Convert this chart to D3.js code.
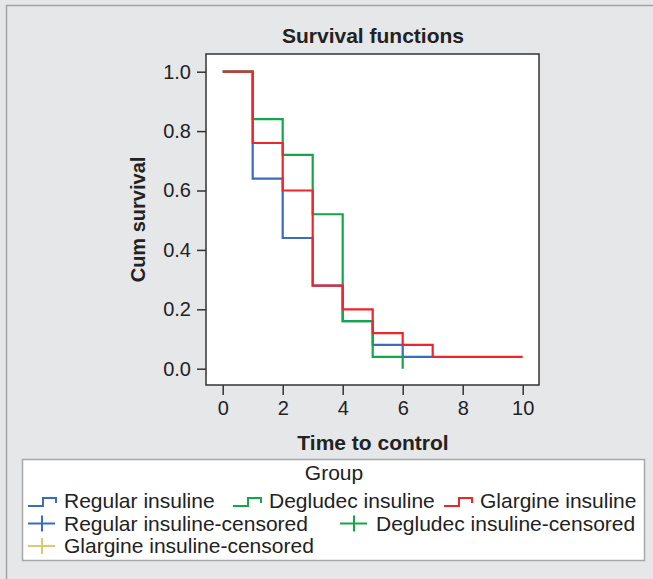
<!DOCTYPE html>
<html>
<head>
<meta charset="utf-8">
<script src="https://cdn.jsdelivr.net/npm/d3@7"></script>
<style>
  body { margin: 0; background: #e6e7e9; }
  svg { display: block; font-family: "Liberation Sans", Arial, sans-serif; }
</style>
</head>
<body>
<div id="graphArea"></div>
<script>
// step times and cumulative survival
var times = [0, 1, 2, 3, 4, 5, 6, 7]
var regular = [1.0, 0.64, 0.44, 0.28, 0.16, 0.08, 0.04]
var degludec = [1.0, 0.84, 0.72, 0.52, 0.16, 0.04, 0.0]
var glargine = [1.0, 0.76, 0.60, 0.28, 0.20, 0.12, 0.08, 0.04]
var lastTime = {regular: 7, degludec: null, glargine: 10}

var xTicks = [0, 2, 4, 6, 8, 10]
var yTicks = [0.0, 0.2, 0.4, 0.6, 0.8, 1.0]

var groups = ["Regular insuline", "Degludec insuline", "Glargine insuline"]
var censoredLabels = ["Regular insuline-censored", "Degludec insuline-censored", "Glargine insuline-censored"]

var colors = {regular: "#3a6bbf", degludec: "#13a64a", glargine: "#f0252b", glargineCens: "#d8cc70"}

var width = 653
var height = 579

var svg = d3.select("#graphArea")
  .append("svg")
    .attr("width", width)
    .attr("height", height)

svg.append("rect")
  .attr("width", width)
  .attr("height", height)
  .attr("fill", "#e6e7e9")

// outer frame (only top & left show)
svg.append("path")
  .attr("d", "M6.5," + height + "V5.5H" + width)
  .attr("fill", "none")
  .attr("stroke", "#a3a3a3")
  .attr("stroke-width", 1.5)

var x = d3.scaleLinear().domain([0, 10]).range([222.7, 522.7])
var y = d3.scaleLinear().domain([0, 1]).range([368.7, 71.7])

var box = {left: 206, right: 539, top: 54, bottom: 385}

svg.append("rect")
  .attr("x", box.left)
  .attr("y", box.top)
  .attr("width", box.right - box.left)
  .attr("height", box.bottom - box.top)
  .attr("fill", "#fff")
  .attr("stroke", "#333")
  .attr("stroke-width", 1.5)

// axes
var xAxis = svg.append("g")
  .attr("transform", "translate(0," + box.bottom + ")")
  .call(d3.axisBottom(x).tickValues(xTicks).tickSize(10).tickPadding(6).tickSizeOuter(0))
xAxis.select(".domain").remove()

var yAxis = svg.append("g")
  .attr("transform", "translate(" + box.left + ",0)")
  .call(d3.axisLeft(y).tickValues(yTicks).tickFormat(d3.format(".1f")).tickSize(9).tickPadding(6).tickSizeOuter(0))
yAxis.select(".domain").remove()

svg.selectAll(".tick line").attr("stroke", "#333").attr("stroke-width", 1.5)
svg.selectAll(".tick text")
  .attr("fill", "#222")
  .style("font-size", "20px")
  .style("font-family", '"Liberation Sans", Arial, sans-serif')

// titles
svg.append("text")
  .attr("x", 373)
  .attr("y", 43)
  .attr("text-anchor", "middle")
  .style("font-size", "21px")
  .style("font-weight", "bold")
  .attr("fill", "#222")
  .text("Survival functions")

svg.append("text")
  .attr("x", 373)
  .attr("y", 450)
  .attr("text-anchor", "middle")
  .style("font-size", "21px")
  .style("font-weight", "bold")
  .attr("fill", "#222")
  .text("Time to control")

svg.append("text")
  .attr("transform", "translate(145," + ((box.top + box.bottom) / 2) + ")rotate(-90)")
  .attr("text-anchor", "middle")
  .style("font-size", "20px")
  .style("font-weight", "bold")
  .attr("fill", "#222")
  .text("Cum survival")

// survival steps
function stepPoints(values, endTime)
{
  var pts = values.map(function(v, i) { return [times[i], v] })
  if(endTime != null)
  {
    pts.push([endTime, values[values.length - 1]])
  }
  return pts
}

var line = d3.line()
  .x(function(d) { return x(d[0]) })
  .y(function(d) { return y(d[1]) })
  .curve(d3.curveStepAfter)

var series = [
  {pts: stepPoints(regular, lastTime.regular), color: colors.regular},
  {pts: stepPoints(degludec, lastTime.degludec), color: colors.degludec},
  {pts: stepPoints(glargine, lastTime.glargine), color: colors.glargine}
]

svg.selectAll("path.surv")
  .data(series)
  .enter()
  .append("path")
    .attr("class", "surv")
    .attr("d", function(d) { return line(d.pts) })
    .attr("fill", "none")
    .attr("stroke", function(d) { return d.color })
    .attr("stroke-width", 2.2)

// legend
var lg = svg.append("g")
lg.append("rect")
  .attr("x", 22.5)
  .attr("y", 459.5)
  .attr("width", 622)
  .attr("height", 101)
  .attr("fill", "#fff")
  .attr("stroke", "#a8a8a8")
  .attr("stroke-width", 1.5)

lg.append("text")
  .attr("x", 334)
  .attr("y", 480)
  .attr("text-anchor", "middle")
  .style("font-size", "21px")
  .attr("fill", "#222")
  .text("Group")

var stepItems = [
  {label: groups[0], color: colors.regular, x: 28, y: 508},
  {label: groups[1], color: colors.degludec, x: 233, y: 508},
  {label: groups[2], color: colors.glargine, x: 444, y: 508}
]
var crossItems = [
  {label: censoredLabels[0], color: colors.regular, x: 28, y: 530.5},
  {label: censoredLabels[1], color: colors.degludec, x: 340, y: 530.5},
  {label: censoredLabels[2], color: colors.glargineCens, x: 28, y: 553}
]

stepItems.forEach(function(it) {
  lg.append("path")
    .attr("d", "M" + it.x + "," + (it.y - 2) + "H" + (it.x + 15) + "V" + (it.y - 10) + "H" + (it.x + 28) + "V" + (it.y - 5))
    .attr("fill", "none")
    .attr("stroke", it.color)
    .attr("stroke-width", 2)
  lg.append("text")
    .attr("x", it.x + 36)
    .attr("y", it.y)
    .style("font-size", "21px")
    .attr("fill", "#222")
    .text(it.label)
})

crossItems.forEach(function(it) {
  lg.append("path")
    .attr("d", "M" + it.x + "," + (it.y - 7) + "H" + (it.x + 27) + "M" + (it.x + 14) + "," + (it.y - 15) + "V" + (it.y + 1))
    .attr("fill", "none")
    .attr("stroke", it.color)
    .attr("stroke-width", 2)
  lg.append("text")
    .attr("x", it.x + 36)
    .attr("y", it.y)
    .style("font-size", "21px")
    .attr("fill", "#222")
    .text(it.label)
})
</script>
</body>
</html>
